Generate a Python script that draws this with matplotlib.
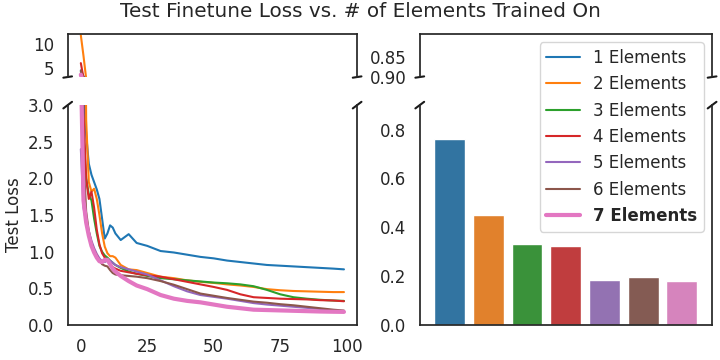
import matplotlib
matplotlib.use("Agg")
import matplotlib.pyplot as plt
import seaborn as sns

sns.set_theme(style="white", context="notebook")
plt.rcParams["font.family"] = ["DejaVu Sans"]
plt.rcParams["xtick.labelsize"] = 12
plt.rcParams["ytick.labelsize"] = 12

# sampled epochs (denser at the start where curves drop fast)
epochs = [0, 1, 2, 3, 4, 5, 6, 7, 8, 9, 10, 11, 12, 13, 15, 18, 21, 25, 30,
          35, 40, 45, 50, 55, 60, 65, 70, 75, 80, 85, 90, 95, 99]

loss_1 = [4.5, 3.3, 2.6, 2.2, 2.05, 1.95, 1.85, 1.72, 1.45, 1.18, 1.25, 1.36,
          1.33, 1.25, 1.16, 1.24, 1.12, 1.08, 1.01, 0.99, 0.96, 0.93, 0.91,
          0.88, 0.86, 0.84, 0.82, 0.81, 0.80, 0.79, 0.78, 0.77, 0.76]
loss_2 = [11.8, 7.5, 2.8, 1.95, 1.82, 1.86, 1.72, 1.5, 1.25, 1.07, 0.98, 0.94,
          0.94, 0.92, 0.82, 0.76, 0.75, 0.71, 0.66, 0.64, 0.61, 0.59, 0.575,
          0.555, 0.54, 0.52, 0.49, 0.475, 0.465, 0.46, 0.455, 0.45, 0.45]
loss_3 = [4.2, 2.6, 2.0, 1.78, 1.7, 1.45, 1.25, 1.08, 1.0, 0.95, 0.92, 0.88,
          0.85, 0.82, 0.78, 0.73, 0.70, 0.67, 0.64, 0.625, 0.61, 0.595, 0.58,
          0.57, 0.555, 0.53, 0.48, 0.42, 0.38, 0.36, 0.345, 0.335, 0.33]
loss_4 = [6.0, 2.9, 2.0, 1.72, 1.82, 1.6, 1.3, 1.1, 0.98, 0.92, 0.88, 0.83,
          0.79, 0.77, 0.74, 0.72, 0.70, 0.68, 0.66, 0.625, 0.59, 0.555, 0.52,
          0.48, 0.42, 0.38, 0.37, 0.36, 0.355, 0.35, 0.34, 0.335, 0.325]
loss_5 = [2.4, 1.6, 1.4, 1.28, 1.15, 1.05, 0.97, 0.91, 0.87, 0.86, 0.88, 0.88,
          0.85, 0.82, 0.79, 0.76, 0.73, 0.69, 0.61, 0.53, 0.46, 0.41, 0.385,
          0.36, 0.33, 0.30, 0.28, 0.265, 0.25, 0.235, 0.22, 0.20, 0.185]
loss_6 = [4.4, 2.3, 1.55, 1.28, 1.12, 1.02, 0.95, 0.88, 0.83, 0.81, 0.80, 0.75,
          0.71, 0.69, 0.68, 0.67, 0.66, 0.64, 0.60, 0.55, 0.49, 0.43, 0.40,
          0.37, 0.345, 0.32, 0.305, 0.285, 0.27, 0.25, 0.23, 0.21, 0.198]
loss_7 = [3.6, 1.7, 1.4, 1.22, 1.08, 0.99, 0.92, 0.87, 0.86, 0.89, 0.89, 0.83,
          0.77, 0.73, 0.67, 0.60, 0.54, 0.49, 0.41, 0.36, 0.33, 0.31, 0.28,
          0.25, 0.23, 0.21, 0.205, 0.20, 0.195, 0.19, 0.185, 0.182, 0.18]

series = [loss_1, loss_2, loss_3, loss_4, loss_5, loss_6, loss_7]
labels = [f"{i} Elements" for i in range(1, 8)]
colors = plt.cm.tab10.colors[:7]

fig = plt.figure(figsize=(7.2, 3.6), dpi=100)
ax_lt = fig.add_axes([0.094, 0.786, 0.402, 0.120])
ax_lb = fig.add_axes([0.094, 0.097, 0.402, 0.611])
ax_rt = fig.add_axes([0.583, 0.786, 0.406, 0.120])
ax_rb = fig.add_axes([0.583, 0.097, 0.406, 0.611])

handles = []
for i, (ys, lab, c) in enumerate(zip(series, labels, colors)):
    lw = 3 if i == 6 else 1.5
    for ax in (ax_lt, ax_lb):
        (ln,) = ax.plot(epochs, ys, color=c, lw=lw, label=lab)
    handles.append(ln)

ax_lt.set_ylim(3.1, 12.1)
ax_lt.set_yticks([5, 10])
ax_lb.set_ylim(0, 3)
ax_lb.set_xticks([0, 25, 50, 75, 100])
ax_lb.set_ylabel("Test Loss")

final = [s[-1] for s in series]
bar_colors = [sns.desaturate(c, 0.75) for c in colors]
ax_rb.bar(range(7), final, width=0.8, color=bar_colors, edgecolor="white", linewidth=1)
ax_rb.set_xlim(-0.77, 6.78)
ax_rt.set_xlim(-0.77, 6.78)
ax_rb.set_ylim(0, 0.9)
ax_rb.set_yticks([0.0, 0.2, 0.4, 0.6, 0.8])
ax_rt.set_ylim(0.9, 0.79)
ax_rt.set_yticks([0.85, 0.90])
ax_rb.set_xticks([])

for top, bot in ((ax_lt, ax_lb), (ax_rt, ax_rb)):
    top.spines["bottom"].set_visible(False)
    bot.spines["top"].set_visible(False)
    top.set_xticks([])
    d = 0.015
    kw = dict(transform=top.transAxes, color="k", clip_on=False, lw=1.5)
    top.plot((-d, d), (-d, d), **kw)
    top.plot((1 - d, 1 + d), (-d, d), **kw)
    kw.update(transform=bot.transAxes)
    bot.plot((-d, d), (1 - d, 1 + d), **kw)
    bot.plot((1 - d, 1 + d), (1 - d, 1 + d), **kw)

ax_rt.set_zorder(5)
leg = ax_rt.legend(handles=handles, loc="upper right", fontsize=12)
leg.get_texts()[-1].set_fontweight("bold")

fig.suptitle("Test Finetune Loss vs. # of Elements Trained On", fontsize=14.4, y=0.995)

fig.savefig("out.png")
